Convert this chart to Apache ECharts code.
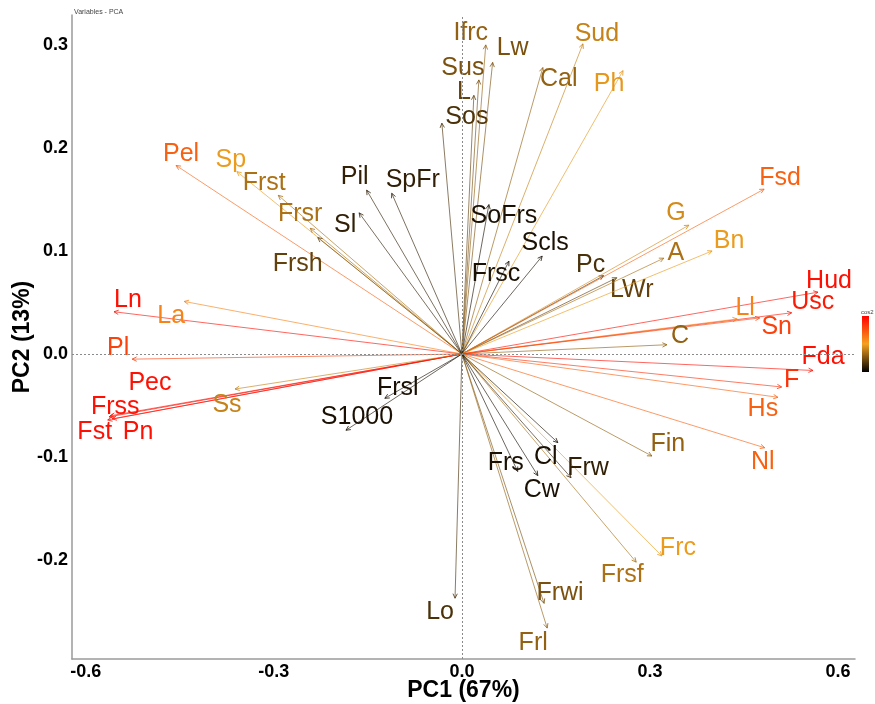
<!DOCTYPE html>
<html>
<head>
<meta charset="utf-8">
<title>Variables - PCA</title>
<script src="https://cdn.jsdelivr.net/npm/echarts@6/dist/echarts.min.js"></script>
<style>
  html, body { margin: 0; padding: 0; background: #fff; }
  #chart { width: 875px; height: 704px; }
</style>
</head>
<body>
<div id="chart"></div>
<script>
// Variable names and their coordinates on the first two principal components
const variables = ['Pel','Sp','Frst','Frsr','Frsh','Sl','Pil','SpFr','Ln','La','Pl','Pec','Frss','Fst','Pn','Ss','Frsl','S1000',
  'Sos','L','Sus','Ifrc','Lw','Cal','Sud','Ph','SoFrs','Scls','Frsc','Pc','LWr','A','G','Bn','Fsd','Hud','Usc','Ll','Sn','C',
  'Fda','F','Hs','Nl','Fin','Frc','Frsf','Frwi','Frl','Lo','Cl','Frw','Cw','Frs'];
const pc1 = [-0.456,-0.359,-0.293,-0.242,-0.230,-0.164,-0.152,-0.112,-0.555,-0.443,-0.526,-0.563,-0.561,-0.565,-0.558,-0.362,-0.123,-0.185,
  -0.032,0.019,0.027,0.038,0.049,0.129,0.193,0.257,0.043,0.128,0.075,0.226,0.247,0.322,0.362,0.399,0.482,0.568,0.526,0.439,0.475,0.327,
  0.560,0.510,0.504,0.483,0.303,0.319,0.278,0.131,0.136,-0.011,0.153,0.174,0.121,0.089];
const pc2 = [0.183,0.177,0.154,0.122,0.113,0.137,0.159,0.156,0.041,0.051,-0.005,-0.061,-0.060,-0.064,-0.063,-0.034,-0.043,-0.074,
  0.224,0.251,0.266,0.300,0.283,0.278,0.301,0.275,0.145,0.095,0.090,0.076,0.074,0.093,0.125,0.100,0.160,0.060,0.040,0.034,0.035,0.009,
  -0.016,-0.032,-0.042,-0.091,-0.099,-0.196,-0.202,-0.242,-0.266,-0.237,-0.086,-0.120,-0.118,-0.114];
// Quality of representation on the factor map
const cos2 = [0.70,0.48,0.35,0.35,0.20,0.10,0.10,0.10,0.95,0.60,0.80,0.95,0.95,0.95,0.95,0.40,0.05,0.05,
  0.15,0.20,0.25,0.30,0.25,0.30,0.40,0.47,0.05,0.05,0.05,0.15,0.20,0.35,0.43,0.48,0.70,0.95,0.92,0.60,0.80,0.30,
  0.95,0.85,0.70,0.70,0.30,0.48,0.35,0.25,0.30,0.15,0.05,0.10,0.05,0.05];
const xTicks = [-0.6, -0.3, 0.0, 0.3, 0.6];
const yTicks = [-0.2, -0.1, 0.0, 0.1, 0.2, 0.3];

// Repelled label placement: pixel shift of each label centre from its arrow tip
const labelShift = {
  Pel:[5,-11], Sp:[-6,-12], Frst:[-14,-12], Frsr:[-10,-14], Frsh:[-20,27], Sl:[-14,12], Pil:[-12,-13], SpFr:[21,-13],
  Ln:[14,-12], La:[-13,15], Pl:[-14,-11], Pec:[41,-34], Frss:[5,-9], Fst:[-13,12], Pn:[26,13], Ss:[-8,16],
  Frsl:[13,-10], S1000:[11,-13], Sos:[25,-6], L:[-10,-3], Sus:[-16,-12], Ifrc:[-15,-12], Lw:[20,-14], Cal:[16,12],
  Sud:[14,-10], Ph:[-14,13], SoFrs:[15,12], Scls:[3,-13], Frsc:[-13,13], Pc:[-13,-11], LWr:[15,12], A:[12,-5],
  G:[-13,-12], Bn:[17,-10], Fsd:[16,-11], Hud:[11,-11], Usc:[21,-11], Ll:[8,-11], Sn:[17,9], C:[13,-9],
  Fda:[10,-13], F:[10,-7], Hs:[-15,12], Nl:[-2,14], Fin:[16,-12], Frc:[16,-8], Frsf:[-14,13], Frwi:[16,-10],
  Frl:[-14,15], Lo:[-15,14], Cl:[-12,14], Frw:[17,-10], Cw:[4,15], Frs:[-12,-8]
};

const gradientColors = ['#000000', '#F5A21E', '#FF0000'];
const seriesData = variables.map((n, i) => [pc1[i], pc2[i], cos2[i], n]);
const FONT = '"Liberation Sans", Arial, Helvetica, sans-serif';

function renderArrow(params, api) {
  const o = api.coord([0, 0]);
  const p = api.coord([api.value(0), api.value(1)]);
  const name = variables[params.dataIndex];
  const col = api.visual('color');
  const ang = Math.atan2(p[1] - o[1], p[0] - o[0]);
  const hl = 5, ha = Math.PI / 7;
  const a1 = [p[0] - hl * Math.cos(ang - ha), p[1] - hl * Math.sin(ang - ha)];
  const a2 = [p[0] - hl * Math.cos(ang + ha), p[1] - hl * Math.sin(ang + ha)];
  const sh = labelShift[name] || [0, -12];
  return {
    type: 'group',
    children: [
      { type: 'line', shape: { x1: o[0], y1: o[1], x2: p[0], y2: p[1] },
        style: { stroke: col, lineWidth: 0.8, opacity: 0.8 } },
      { type: 'polyline', shape: { points: [a1, p, a2] },
        style: { stroke: col, lineWidth: 0.8, fill: null } },
      { type: 'text', x: p[0] + sh[0], y: p[1] + sh[1],
        style: { text: name, fill: col, font: '25px ' + FONT, align: 'center', verticalAlign: 'middle' } }
    ]
  };
}

const chart = echarts.init(document.getElementById('chart'));
chart.setOption({
  backgroundColor: '#fff',
  animation: false,
  title: {
    text: 'Variables - PCA', left: 69, top: 4,
    textStyle: { fontSize: 7, fontWeight: 'normal', color: '#444', fontFamily: FONT }
  },
  grid: { left: 72, right: 20, top: 15, bottom: 45, outerBoundsMode: 'none', containLabel: false },
  xAxis: {
    type: 'value', min: -0.622, max: 0.627,
    name: 'PC1 (67%)', nameLocation: 'middle', nameGap: 20, nameMoveOverlap: false,
    nameTextStyle: { fontSize: 23, fontWeight: 'bold', color: '#000', fontFamily: FONT },
    axisLine: { show: true, onZero: false, lineStyle: { color: '#9a9a9a', width: 1.5 } },
    axisTick: { show: false },
    splitLine: { show: false },
    axisLabel: {
      customValues: xTicks, formatter: v => v.toFixed(1), margin: 4,
      fontSize: 18, fontWeight: 'bold', color: '#000', fontFamily: FONT
    }
  },
  yAxis: {
    type: 'value', min: -0.296, max: 0.329,
    name: 'PC2 (13%)', nameLocation: 'middle', nameGap: 38, nameRotate: 90, nameMoveOverlap: false,
    nameTextStyle: { fontSize: 23, fontWeight: 'bold', color: '#000', fontFamily: FONT },
    axisLine: { show: true, onZero: false, lineStyle: { color: '#9a9a9a', width: 1.5 } },
    axisTick: { show: false },
    splitLine: { show: false },
    axisLabel: {
      customValues: yTicks, formatter: v => v.toFixed(1), margin: 4,
      fontSize: 18, fontWeight: 'bold', color: '#000', fontFamily: FONT
    }
  },
  visualMap: {
    type: 'continuous', show: false, seriesIndex: 0, dimension: 2, min: 0, max: 1,
    inRange: { color: gradientColors }
  },
  graphic: [
    { type: 'text', left: 861, top: 309, style: { text: 'cos2', font: '6px ' + FONT, fill: '#444' } },
    { type: 'rect', left: 862, top: 316, shape: { width: 7, height: 56 },
      style: {
        fill: new echarts.graphic.LinearGradient(0, 0, 0, 1, [
          { offset: 0, color: gradientColors[2] },
          { offset: 0.5, color: gradientColors[1] },
          { offset: 1, color: gradientColors[0] }
        ])
      } }
  ],
  series: [
    {
      type: 'custom', renderItem: renderArrow, data: seriesData, clip: false,
      encode: { x: 0, y: 1 }, z: 3
    },
    {
      type: 'line', data: [], silent: true, z: 1,
      markLine: {
        silent: true, symbol: 'none', label: { show: false },
        lineStyle: { type: [2, 2], color: '#8a8a8a', width: 1 },
        data: [{ xAxis: 0 }, { yAxis: 0 }]
      }
    }
  ]
});
</script>
</body>
</html>
